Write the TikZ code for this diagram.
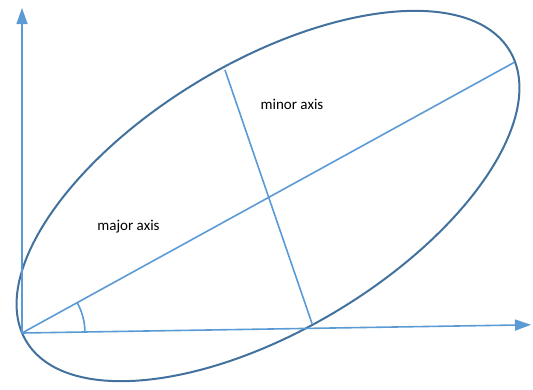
\documentclass[tikz,border=0pt]{standalone}
\usepackage{fontspec}
\setmainfont{Carlito}
\usetikzlibrary{arrows.meta}
\definecolor{axisblue}{RGB}{91,155,213}
\definecolor{ellblue}{RGB}{65,113,156}
\begin{document}
\begin{tikzpicture}[x=1pt,y=-1pt,
  axisline/.style={draw=axisblue,line width=1.6pt},
  arrowline/.style={axisline,-{Triangle[length=16pt,width=11pt]}},
  ellline/.style={draw=ellblue,line width=2pt},
  lbl/.style={font=\fontsize{15}{18}\selectfont,text=black,inner sep=0pt}]
\useasboundingbox (0,0) rectangle (533,389);
\coordinate (O) at (22,333);
\coordinate (ytip) at (22,8);
\coordinate (xtip) at (531,324.8);
\coordinate (C) at (268,196);
\coordinate (majE) at (514,62.5);
\coordinate (minT) at (225,70);
\coordinate (minB) at (312,323.5);
% ellipse
\draw[ellline] (C) ellipse[x radius=282, y radius=134, rotate=31];
% axes
\draw[arrowline] (O) -- (ytip);
\draw[arrowline] (O) -- (xtip);
% major and minor axes
\draw[axisline] (O) -- (majE);
\draw[axisline] (minT) -- (minB);
% angle arc
\draw[axisline] ([shift={(-0.9:63)}]O) arc[start angle=-0.9, end angle=-28.8, radius=63];
\node[lbl] (maj) at (128.5,227) {major axis};
\node[lbl] (min) at (292,104) {minor axis};
\end{tikzpicture}
\end{document}
